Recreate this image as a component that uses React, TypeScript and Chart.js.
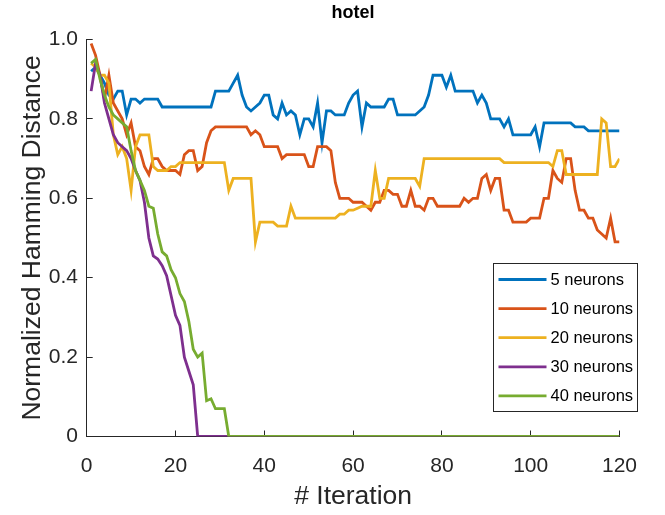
import React, { useEffect, useRef } from 'react';
import { Chart, registerables } from 'chart.js';

Chart.register(...registerables);

const iterations: number[] = Array.from({ length: 120 }, (_, i) => i + 1);

const seriesLabels = ['5 neurons', '10 neurons', '20 neurons', '30 neurons', '40 neurons'];
const seriesColors = ['#0072BD', '#D95319', '#EDB120', '#7E2F8E', '#77AC30'];

const neurons5 = [
  0.92, 0.93, 0.91, 0.89, 0.86, 0.85, 0.87, 0.87, 0.81, 0.85,
  0.85, 0.84, 0.85, 0.85, 0.85, 0.85, 0.83, 0.83, 0.83, 0.83,
  0.83, 0.83, 0.83, 0.83, 0.83, 0.83, 0.83, 0.83, 0.87, 0.87,
  0.87, 0.87, 0.89, 0.91, 0.86, 0.83, 0.82, 0.83, 0.84, 0.86,
  0.86, 0.81, 0.80, 0.84, 0.81, 0.82, 0.81, 0.76, 0.80, 0.80,
  0.78, 0.84, 0.74, 0.82, 0.82, 0.81, 0.81, 0.81, 0.84, 0.86,
  0.87, 0.78, 0.84, 0.83, 0.83, 0.83, 0.83, 0.85, 0.85, 0.81,
  0.81, 0.81, 0.81, 0.81, 0.82, 0.83, 0.86, 0.91, 0.91, 0.91,
  0.88, 0.91, 0.87, 0.87, 0.87, 0.87, 0.87, 0.84, 0.86, 0.84,
  0.80, 0.80, 0.80, 0.78, 0.80, 0.76, 0.76, 0.76, 0.76, 0.76,
  0.78, 0.73, 0.79, 0.79, 0.79, 0.79, 0.79, 0.79, 0.79, 0.78,
  0.78, 0.78, 0.77, 0.77, 0.77, 0.77, 0.77, 0.77, 0.77, 0.77,
];

const neurons10 = [
  0.99, 0.96, 0.91, 0.85, 0.91, 0.84, 0.82, 0.80, 0.76, 0.79,
  0.73, 0.72, 0.68, 0.66, 0.70, 0.70, 0.68, 0.67, 0.67, 0.67,
  0.66, 0.71, 0.72, 0.72, 0.67, 0.68, 0.74, 0.77, 0.78, 0.78,
  0.78, 0.78, 0.78, 0.78, 0.78, 0.78, 0.76, 0.77, 0.76, 0.73,
  0.73, 0.73, 0.73, 0.70, 0.71, 0.71, 0.71, 0.71, 0.71, 0.68,
  0.68, 0.73, 0.73, 0.73, 0.72, 0.64, 0.60, 0.60, 0.60, 0.59,
  0.59, 0.59, 0.58, 0.57, 0.59, 0.59, 0.62, 0.62, 0.61, 0.61,
  0.58, 0.58, 0.62, 0.58, 0.58, 0.57, 0.60, 0.60, 0.58, 0.58,
  0.58, 0.58, 0.58, 0.58, 0.60, 0.59, 0.60, 0.60, 0.65, 0.66,
  0.62, 0.65, 0.65, 0.57, 0.57, 0.54, 0.54, 0.54, 0.54, 0.55,
  0.55, 0.55, 0.60, 0.60, 0.67, 0.65, 0.64, 0.70, 0.70, 0.62,
  0.57, 0.57, 0.55, 0.55, 0.52, 0.51, 0.50, 0.55, 0.49, 0.49,
];

const neurons20 = [
  0.94, 0.93, 0.91, 0.91, 0.89, 0.76, 0.71, 0.73, 0.70, 0.62,
  0.73, 0.76, 0.76, 0.76, 0.68, 0.67, 0.67, 0.67, 0.68, 0.68,
  0.69, 0.69, 0.69, 0.69, 0.69, 0.69, 0.69, 0.69, 0.69, 0.69,
  0.69, 0.62, 0.65, 0.65, 0.65, 0.65, 0.65, 0.49, 0.54, 0.54,
  0.54, 0.54, 0.53, 0.53, 0.53, 0.58, 0.55, 0.55, 0.55, 0.55,
  0.55, 0.55, 0.55, 0.55, 0.55, 0.55, 0.56, 0.56, 0.57, 0.57,
  0.575, 0.58, 0.58, 0.58, 0.67, 0.60, 0.60, 0.65, 0.65, 0.65,
  0.65, 0.65, 0.65, 0.65, 0.63, 0.70, 0.70, 0.70, 0.70, 0.70,
  0.70, 0.70, 0.70, 0.70, 0.70, 0.70, 0.70, 0.70, 0.70, 0.70,
  0.70, 0.70, 0.70, 0.69, 0.69, 0.69, 0.69, 0.69, 0.69, 0.69,
  0.69, 0.69, 0.69, 0.69, 0.68, 0.72, 0.72, 0.66, 0.66, 0.66,
  0.66, 0.66, 0.66, 0.66, 0.66, 0.80, 0.79, 0.68, 0.68, 0.70,
];

const neurons30 = [
  0.87, 0.94, 0.91, 0.84, 0.80, 0.76, 0.74, 0.73, 0.72, 0.70,
  0.67, 0.645, 0.59, 0.50, 0.455, 0.447, 0.43, 0.405, 0.355, 0.305,
  0.28, 0.20, 0.165, 0.13, 0, 0, 0, 0, 0, 0,
  0, 0, 0, 0, 0, 0, 0, 0, 0, 0,
  0, 0, 0, 0, 0, 0, 0, 0, 0, 0,
  0, 0, 0, 0, 0, 0, 0, 0, 0, 0,
  0, 0, 0, 0, 0, 0, 0, 0, 0, 0,
  0, 0, 0, 0, 0, 0, 0, 0, 0, 0,
  0, 0, 0, 0, 0, 0, 0, 0, 0, 0,
  0, 0, 0, 0, 0, 0, 0, 0, 0, 0,
  0, 0, 0, 0, 0, 0, 0, 0, 0, 0,
  0, 0, 0, 0, 0, 0, 0, 0, 0, 0,
];

const neurons40 = [
  0.94, 0.95, 0.90, 0.86, 0.83, 0.81, 0.80, 0.79, 0.78, 0.72,
  0.67, 0.645, 0.62, 0.58, 0.575, 0.51, 0.465, 0.455, 0.42, 0.40,
  0.36, 0.34, 0.29, 0.22, 0.20, 0.21, 0.09, 0.095, 0.07, 0.07,
  0.07, 0, 0, 0, 0, 0, 0, 0, 0, 0,
  0, 0, 0, 0, 0, 0, 0, 0, 0, 0,
  0, 0, 0, 0, 0, 0, 0, 0, 0, 0,
  0, 0, 0, 0, 0, 0, 0, 0, 0, 0,
  0, 0, 0, 0, 0, 0, 0, 0, 0, 0,
  0, 0, 0, 0, 0, 0, 0, 0, 0, 0,
  0, 0, 0, 0, 0, 0, 0, 0, 0, 0,
  0, 0, 0, 0, 0, 0, 0, 0, 0, 0,
  0, 0, 0, 0, 0, 0, 0, 0, 0, 0,
];

const seriesValues = [neurons5, neurons10, neurons20, neurons30, neurons40];

const FONT = '"Liberation Sans", Arial, Helvetica, sans-serif';
const AXIS_COLOR = '#262626';
const LINE_WIDTH = 2.8;

const insideLegend = {
  id: 'insideLegend',
  afterDatasetsDraw(chart: any) {
    const { ctx, chartArea } = chart;
    const w = 144;
    const h = 148;
    const x0 = Math.round(chartArea.right + 17) - w + 0.5;
    const y0 = Math.round(chartArea.bottom - 26) - h + 0.5;
    ctx.save();
    ctx.fillStyle = '#ffffff';
    ctx.fillRect(x0, y0, w, h);
    ctx.strokeStyle = AXIS_COLOR;
    ctx.lineWidth = 1;
    ctx.strokeRect(x0, y0, w, h);
    ctx.font = `16.5px ${FONT}`;
    ctx.textBaseline = 'middle';
    ctx.textAlign = 'left';
    chart.data.datasets.forEach((ds: any, i: number) => {
      const yy = y0 + 16 + i * 29.1;
      ctx.strokeStyle = ds.borderColor;
      ctx.lineWidth = LINE_WIDTH;
      ctx.beginPath();
      ctx.moveTo(x0 + 5, yy);
      ctx.lineTo(x0 + 53, yy);
      ctx.stroke();
      ctx.fillStyle = '#000000';
      ctx.fillText(ds.label, x0 + 57, yy + 1);
    });
    ctx.restore();
  },
};

export default function App() {
  const canvasRef = useRef<HTMLCanvasElement | null>(null);

  useEffect(() => {
    const canvas = canvasRef.current;
    if (!canvas) return;
    const chart = new Chart(canvas, {
      type: 'line',
      data: {
        labels: iterations,
        datasets: seriesValues.map((vals, i) => ({
          label: seriesLabels[i],
          data: vals,
          borderColor: seriesColors[i],
          backgroundColor: seriesColors[i],
          borderWidth: LINE_WIDTH,
          pointRadius: 0,
          tension: 0,
          fill: false,
          order: seriesValues.length - i,
        })),
      },
      options: {
        responsive: false,
        animation: false,
        events: [],
        layout: { padding: { left: 0, right: 45.5, top: 0, bottom: 0 } },
        plugins: {
          legend: { display: false },
          tooltip: { enabled: false },
          title: {
            display: true,
            text: 'hotel',
            fullSize: false,
            color: '#000000',
            font: { family: FONT, size: 18, weight: 'bold' },
            padding: { top: 2, bottom: 15.9 },
          },
        },
        scales: {
          x: {
            type: 'linear',
            min: 0,
            max: 120,
            afterFit: (scale: any) => {
              scale.height = 78.5;
            },
            ticks: {
              stepSize: 20,
              color: AXIS_COLOR,
              font: { family: FONT, size: 21 },
              padding: 23,
              maxRotation: 0,
            },
            grid: {
              drawOnChartArea: false,
              drawTicks: true,
              tickLength: -6,
              color: AXIS_COLOR,
            },
            border: { display: true, color: AXIS_COLOR, width: 1 },
            title: {
              display: true,
              text: '# Iteration',
              color: AXIS_COLOR,
              font: { family: FONT, size: 26.5 },
              padding: { top: 0, bottom: 2 },
            },
          },
          y: {
            type: 'linear',
            min: 0,
            max: 1,
            afterFit: (scale: any) => {
              scale.width = 86.7;
            },
            ticks: {
              stepSize: 0.2,
              color: AXIS_COLOR,
              font: { family: FONT, size: 21 },
              padding: 14.7,
            },
            grid: {
              drawOnChartArea: false,
              drawTicks: true,
              tickLength: -6,
              color: AXIS_COLOR,
            },
            border: { display: true, color: AXIS_COLOR, width: 1 },
            title: {
              display: true,
              text: 'Normalized Hamming Distance',
              color: AXIS_COLOR,
              font: { family: FONT, size: 26.5 },
              padding: { top: 17, bottom: 0 },
            },
          },
        },
      },
      plugins: [insideLegend],
    });
    return () => chart.destroy();
  }, []);

  return (
    <div style={{ position: 'fixed', left: 0, top: 0, width: 665, height: 515, background: '#ffffff' }}>
      <canvas ref={canvasRef} width={665} height={515} style={{ display: 'block' }} />
    </div>
  );
}
